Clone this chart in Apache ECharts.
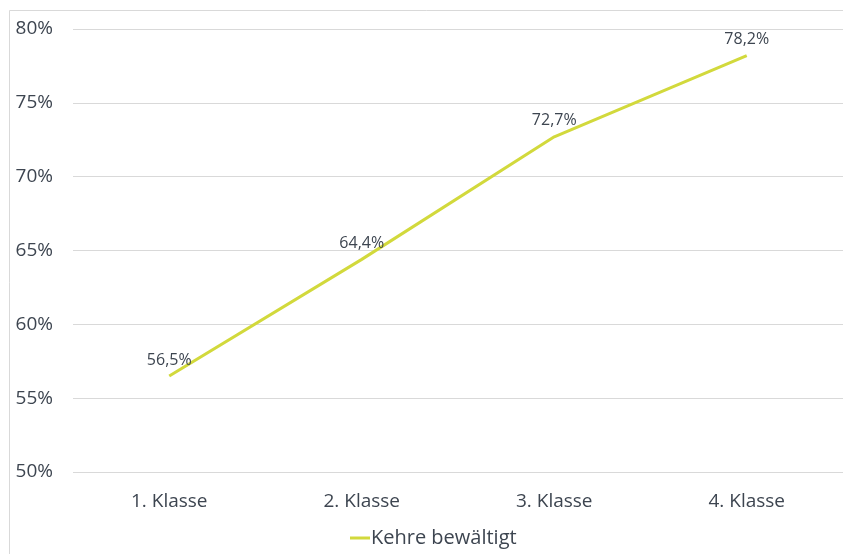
<!DOCTYPE html>
<html>
<head>
<meta charset="utf-8">
<script src="https://cdn.jsdelivr.net/npm/echarts@6/dist/echarts.min.js"></script>
<style>
  html, body { margin: 0; padding: 0; background: #ffffff; }
  #chart { width: 843px; height: 554px; }
</style>
</head>
<body>
<div id="chart"></div>
<script>
// School grades on the x axis
const categories = ['1. Klasse', '2. Klasse', '3. Klasse', '4. Klasse'];
// Share of pupils who managed the turn, in percent
const kehreValues = [56.5, 64.4, 72.7, 78.2];
const seriesName = 'Kehre bewältigt';
// Value axis range and step, in percent
const yMin = 50;
const yMax = 80;
const yStep = 5;

const textColor = '#3d4550';
const fontFamily = '"Open Sans", "Noto Sans", sans-serif';

const chart = echarts.init(document.getElementById('chart'), null, { renderer: 'canvas' });

chart.setOption({
  backgroundColor: '#ffffff',
  animation: false,
  graphic: [
    {
      type: 'polyline',
      shape: { points: [[9.5, 554], [9.5, 10.5], [843, 10.5]] },
      style: { stroke: '#d9d9d9', lineWidth: 1, fill: null }
    }
  ],
  grid: {
    left: 73,
    top: 29,
    width: 772,
    height: 443,
    containLabel: false
  },
  legend: {
    bottom: 1,
    left: 345,
    icon: 'rect',
    itemWidth: 20,
    itemHeight: 3,
    itemGap: 10,
    textStyle: { color: textColor, fontSize: 20, fontFamily: fontFamily, padding: [0, 0, 0, -4] },
    data: [seriesName]
  },
  xAxis: {
    type: 'category',
    data: categories,
    boundaryGap: true,
    axisLine: { show: false },
    axisTick: { show: false },
    axisLabel: { color: textColor, fontSize: 19, fontFamily: fontFamily, margin: 20 }
  },
  yAxis: {
    type: 'value',
    min: yMin,
    max: yMax,
    interval: yStep,
    axisLine: { show: false },
    axisTick: { show: false },
    splitLine: { lineStyle: { color: '#d9d9d9', width: 1 } },
    axisLabel: {
      color: textColor,
      fontSize: 19,
      fontFamily: fontFamily,
      margin: 20,
      formatter: v => v + '%'
    }
  },
  series: [
    {
      name: seriesName,
      type: 'line',
      data: kehreValues,
      symbol: 'circle',
      symbolSize: 0,
      lineStyle: { color: '#d2d93c', width: 3 },
      itemStyle: { color: '#d2d93c' },
      label: {
        show: true,
        position: 'top',
        distance: 8,
        color: textColor,
        fontSize: 16,
        fontFamily: fontFamily,
        formatter: p => p.value.toFixed(1).replace('.', ',') + '%'
      }
    }
  ]
});
</script>
</body>
</html>
